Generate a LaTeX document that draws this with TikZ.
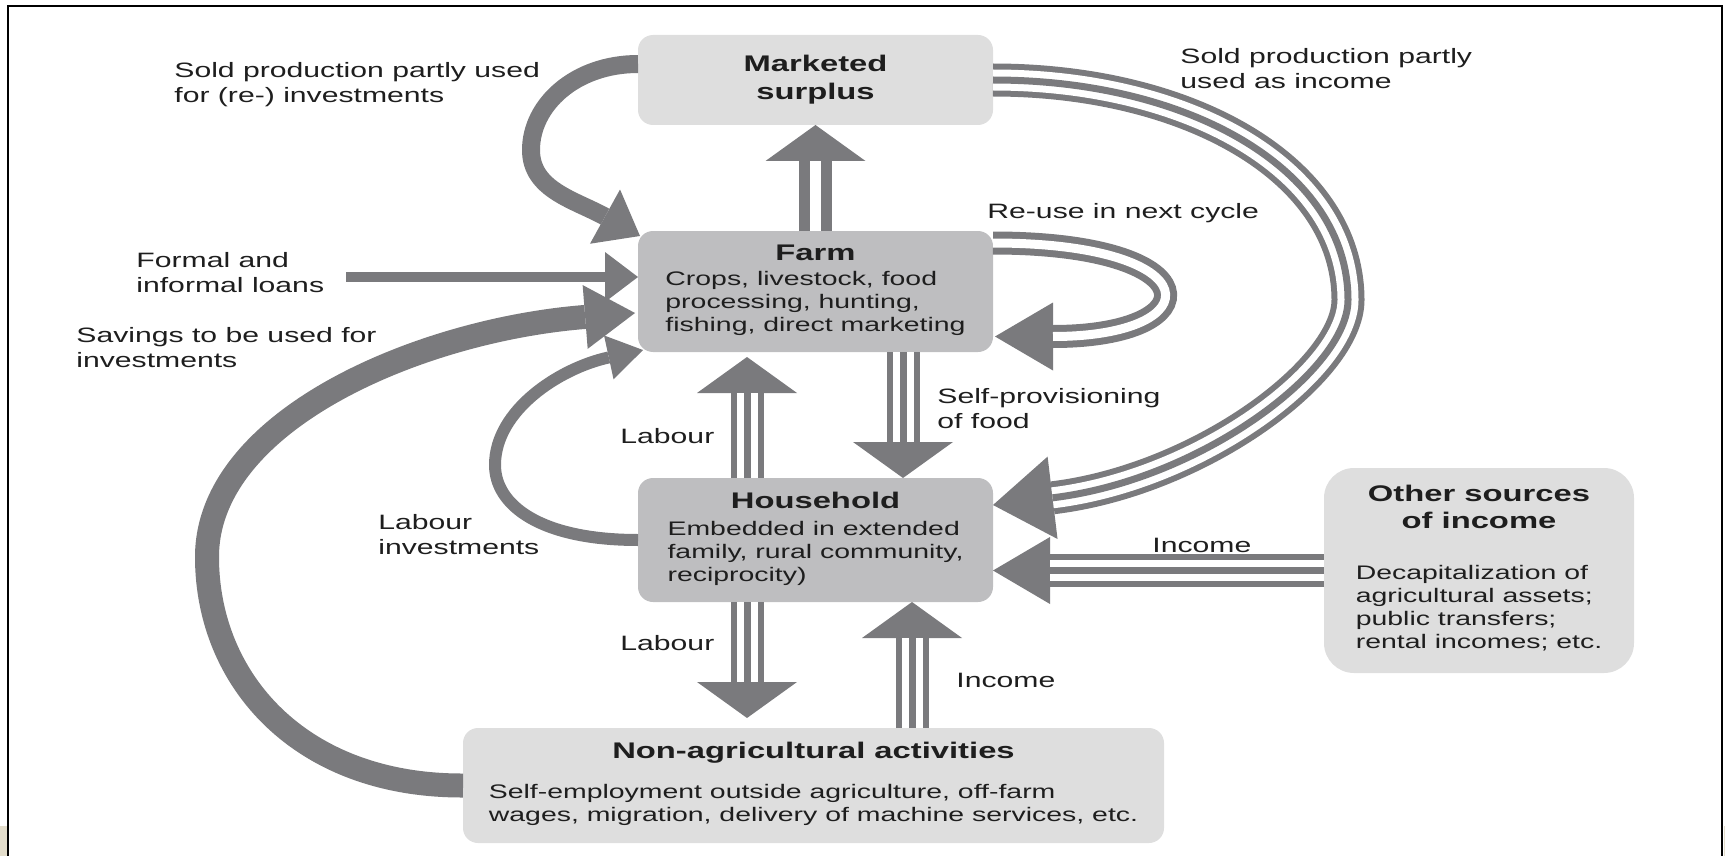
\documentclass[tikz,border=0pt]{standalone}
\usepackage{fontspec}
\setmainfont[FakeStretch=1.45]{Liberation Sans}
\usetikzlibrary{arrows.meta,calc}

\definecolor{arrowgray}{RGB}{122,122,125}
\definecolor{lightbox}{RGB}{222,222,222}
\definecolor{darkbox}{RGB}{190,190,192}
\definecolor{inkgray}{RGB}{30,30,30}
\definecolor{paper}{RGB}{227,221,203}

\newcommand{\bodyfont}{\fontsize{9.8pt}{11.5pt}\selectfont}
\newcommand{\headfont}{\fontsize{11.3pt}{14pt}\selectfont\bfseries}
\newcommand{\lblfont}{\fontsize{10.4pt}{12.5pt}\selectfont}
\newcommand{\boxhead}[1]{\multicolumn{1}{@{}c@{}}{\headfont #1}}

\begin{document}
\begin{tikzpicture}[x=0.5pt,y=-0.5pt,
    box/.style={inner sep=0pt, outer sep=0pt, text=inkgray, rounded corners=7.5pt},
    pale/.style={box, fill=lightbox},
    dark/.style={box, fill=darkbox},
    lbl/.style={font=\lblfont, text=inkgray, align=left, anchor=west, inner sep=0pt},
    band/.style n args={3}{draw=arrowgray, line width=#1,
        -{Triangle[length=#2, width=#3, line width=0pt]}},
    duo/.style n args={4}{band={#1}{#3}{#4},
        postaction={draw=white, line width=#2, -, shorten >=#3}},
    trio/.style 2 args={band={16.5pt}{#1}{#2},
        postaction={draw=white, line width=10.5pt, -, shorten >=#1},
        postaction={draw=arrowgray, line width=3.5pt, -, shorten >=#1}},
  ]
  \useasboundingbox (0,0) rectangle (1725,856);
  \fill[paper] (0,826) rectangle (6.5,856);
  \fill[paper] (1723.5,826) rectangle (1725,856);
  \draw[line width=1.25pt] (8,856) -- (8,6) -- (1722,6) -- (1722,856);

  % boxes
  \node[pale, minimum width=177.5pt, minimum height=45pt, font=\headfont, align=center] (ms) at (815.5,80) {Marketed\\surplus};
  \node[dark, minimum width=177.5pt, minimum height=60.5pt, font=\bodyfont] (farm) at (815.5,291.5)
    {\begin{tabular}{@{}l@{}}\boxhead{Farm}\\[1pt] Crops, livestock, food\\ processing, hunting,\\ fishing, direct marketing\end{tabular}};
  \node[dark, minimum width=177.5pt, minimum height=62pt, font=\bodyfont] (hh) at (815.5,540)
    {\begin{tabular}{@{}l@{}}\boxhead{Household}\\[2pt] Embedded in extended\\ family, rural community,\\ reciprocity)\end{tabular}};
  \node[pale, minimum width=350.5pt, minimum height=57.5pt, font=\bodyfont] (nonagri) at (813.5,785.5)
    {\begin{tabular}{@{}l@{}}\boxhead{Non-agricultural activities}\\[8.5pt] Self-employment outside agriculture, off-farm\\ wages, migration, delivery of machine services, etc.\end{tabular}};
  \node[pale, rounded corners=15pt, minimum width=155pt, minimum height=102.5pt, font=\bodyfont] (other) at (1479,570.5)
    {\begin{tabular}{@{}l@{}}\boxhead{Other sources}\\[2pt] \boxhead{of income}\\[14pt] Decapitalization of\\ agricultural assets;\\ public transfers;\\ rental incomes; etc.\end{tabular}};

  % labels
  \node[lbl] (reinvestlbl) at (174,84.5) {Sold production partly used\\for (re-) investments};
  \node[lbl] (soldinclbl) at (1180,68.5) {Sold production partly\\used as income};
  \node[lbl] (reuselbl) at (987,213) {Re-use in next cycle};
  \node[lbl] (loanslbl) at (136,272.5) {Formal and\\informal loans};
  \node[lbl] (savingslbl) at (76,348) {Savings to be used for\\investments};
  \node[lbl] (provlbl) at (937,408.5) {Self-provisioning\\of food};
  \node[lbl] (labuplbl) at (620,436) {Labour};
  \node[lbl] (labinvlbl) at (378,535) {Labour\\investments};
  \node[lbl] (otherinclbl) at (1152,545) {Income};
  \node[lbl] (labdownlbl) at (620,643) {Labour};
  \node[lbl] (nonaginclbl) at (956,680) {Income};

  \coordinate (labx) at (747,0);
  \coordinate (provx) at (903,0);
  \coordinate (incx) at (912,0);
  \coordinate (loansrc) at (346,277);

  % flows between the boxes
  \draw[duo={16.5pt}{5.5pt}{18pt}{50pt}] (farm.north) -- (ms.south);
  \draw[duo={11.5pt}{4.5pt}{29pt}{34pt}] ($(farm.east)+(0,-48.5)$)
    .. controls ($(farm.east)+(219,-48.5)$) and ($(farm.east)+(219,45)$) .. ($(farm.east)+(2,45)$);
  \draw[trio={18pt}{50pt}] (farm.south -| provx) -- (hh.north -| provx);
  \draw[trio={18pt}{50pt}] (hh.north -| labx) -- ($(farm.south -| labx)+(0,5)$);
  \draw[trio={18pt}{50pt}] (hh.south -| labx) -- ($(nonagri.north -| labx)+(0,-10)$);
  \draw[trio={18pt}{50pt}] (nonagri.north -| incx) -- (hh.south -| incx);
  \draw[trio={28.5pt}{33.5pt}] (other.west) -- (other.west -| hh.east);
  \draw[trio={30pt}{41.5pt}] (ms.east) .. controls (1190,80) and (1348,170) .. (1348,300)
    .. controls (1348,370) and (1200,480) .. ($(hh.east)+(0,-35)$);

  % money and labour going back into the farm
  \draw[band={9pt}{20pt}{31pt}] ($(ms.west)+(0,-16)$) .. controls (575,64) and (531,105) .. (531,150)
    .. controls (531,190) and (575,200) .. ($(farm.north west)+(2,5)$);
  \draw[band={5pt}{16.5pt}{25pt}] (loansrc) -- (loansrc -| farm.west);
  \draw[band={12pt}{25pt}{32pt}] (nonagri.west) .. controls (300,786) and (207,680) .. (207,557)
    .. controls (207,420) and (420,330) .. ($(farm.west)+(-3,21.5)$);
  \draw[band={6pt}{17.5pt}{22.5pt}] (hh.west) .. controls (540,540) and (495,505) .. (495,465)
    .. controls (495,410) and (560,368) .. ($(farm.south west)+(5,-2)$);
\end{tikzpicture}
\end{document}
